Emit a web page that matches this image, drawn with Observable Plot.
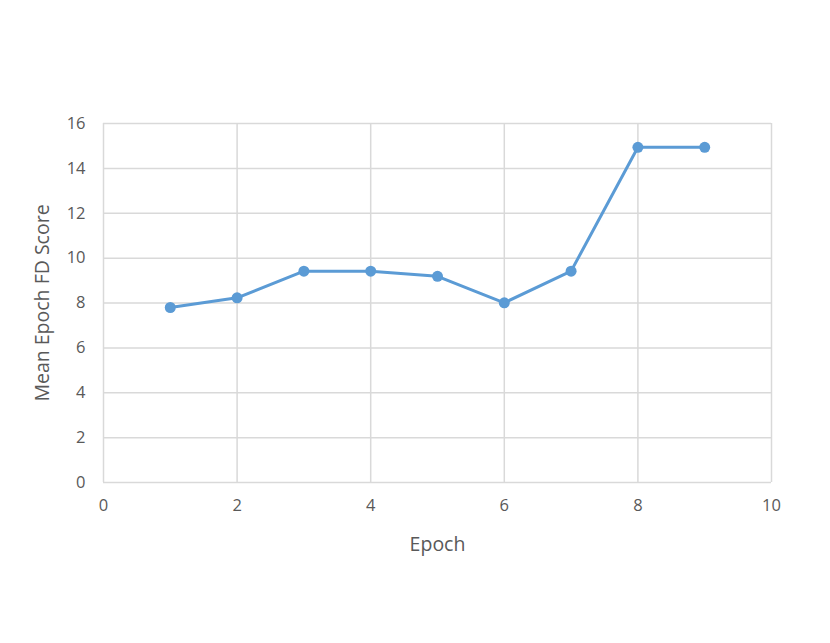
<!DOCTYPE html>
<html><head><meta charset="utf-8">
<script src="https://cdn.jsdelivr.net/npm/d3@7"></script>
<script src="https://cdn.jsdelivr.net/npm/@observablehq/plot@0.6"></script>
<style>
html,body{margin:0;padding:0;background:#fff;}
svg{font-family:"Open Sans","Liberation Sans",sans-serif;}
</style>
</head><body>
<div id="chart"></div>
<script>
const epochs = [1, 2, 3, 4, 5, 6, 7, 8, 9];
const scores = [7.8, 8.23, 9.42, 9.42, 9.19, 8.01, 9.42, 14.94, 14.94];
const xTicks = [0, 2, 4, 6, 8, 10];
const yTicks = [0, 2, 4, 6, 8, 10, 12, 14, 16];
const xLabel = "Epoch";
const yLabel = "Mean Epoch FD Score";
const data = epochs.map((e, i) => ({epoch: e, score: scores[i]}));

const chart = Plot.plot({
  width: 830,
  height: 643,
  marginLeft: 103,
  marginRight: 59,
  marginTop: 123,
  marginBottom: 161,
  style: {color: "#595959", fontFamily: "'Open Sans','Liberation Sans',sans-serif"},
  x: {domain: [0, 10]},
  y: {domain: [0, 16]},
  marks: [
    Plot.ruleY(yTicks, {stroke: "#d9d9d9", strokeWidth: 1.5, strokeOpacity: 1}),
    Plot.ruleX(xTicks, {stroke: "#d9d9d9", strokeWidth: 1.5, strokeOpacity: 1}),
    Plot.axisX({ticks: xTicks, tickSize: 0, tickPadding: 17, fontSize: 16.5, label: xLabel, labelAnchor: "center", labelOffset: 68, labelArrow: "none"}),
    Plot.axisY({ticks: yTicks, tickSize: 0, tickPadding: 18, fontSize: 16.5, label: yLabel, labelAnchor: "center", labelOffset: 68, labelArrow: "none"}),
    Plot.line(data, {x: "epoch", y: "score", stroke: "#5b9bd5", strokeWidth: 3}),
    Plot.dot(data, {x: "epoch", y: "score", r: 5.5, fill: "#5b9bd5", stroke: "none"})
  ]
});
document.getElementById("chart").appendChild(chart);
chart.querySelectorAll("text").forEach(t => {
  if (t.textContent === xLabel || t.textContent === yLabel) t.setAttribute("style", "font-size:19.5px");
});
</script>
</body></html>
